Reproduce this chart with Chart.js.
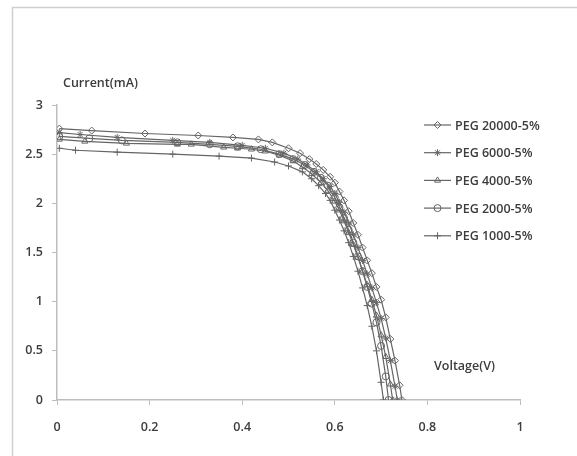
<!DOCTYPE html>
<html>
<head>
<meta charset="utf-8">
<script src="https://cdn.jsdelivr.net/npm/chart.js@4"></script>
<style>
  body { margin: 0; background: #fff; }
  canvas { display: block; }
</style>
</head>
<body>
<canvas id="ivChart" width="577" height="456"></canvas>
<script>
// Chart data
const seriesNames = ['PEG 20000-5%', 'PEG 6000-5%', 'PEG 4000-5%', 'PEG 2000-5%', 'PEG 1000-5%'];
const markerStyles = ['rectRot', 'star', 'triangle', 'circle', 'cross'];

const v20000 = [0.005, 0.075, 0.19, 0.305, 0.38, 0.435, 0.465, 0.50, 0.525, 0.545, 0.56, 0.575, 0.59, 0.60, 0.61, 0.62, 0.63, 0.64, 0.65, 0.66, 0.67, 0.68, 0.69, 0.70, 0.71, 0.72, 0.73, 0.74, 0.745];
const i20000 = [2.76, 2.74, 2.71, 2.69, 2.67, 2.65, 2.62, 2.56, 2.51, 2.45, 2.40, 2.34, 2.27, 2.21, 2.12, 2.03, 1.92, 1.80, 1.68, 1.55, 1.42, 1.29, 1.15, 1.02, 0.84, 0.62, 0.40, 0.15, 0.0];

const v6000 = [0.005, 0.05, 0.13, 0.25, 0.33, 0.40, 0.45, 0.49, 0.52, 0.54, 0.56, 0.575, 0.59, 0.60, 0.61, 0.62, 0.63, 0.64, 0.65, 0.66, 0.67, 0.68, 0.69, 0.70, 0.71, 0.72, 0.73, 0.735];
const i6000 = [2.72, 2.70, 2.67, 2.64, 2.62, 2.59, 2.56, 2.51, 2.45, 2.39, 2.32, 2.25, 2.17, 2.10, 2.01, 1.91, 1.80, 1.68, 1.55, 1.42, 1.28, 1.14, 0.99, 0.83, 0.63, 0.40, 0.14, 0.0];

const v4000 = [0.005, 0.06, 0.15, 0.26, 0.29, 0.36, 0.39, 0.42, 0.45, 0.48, 0.51, 0.53, 0.55, 0.57, 0.585, 0.60, 0.61, 0.62, 0.63, 0.64, 0.65, 0.66, 0.67, 0.68, 0.69, 0.70, 0.71, 0.72, 0.725];
const i4000 = [2.65, 2.63, 2.61, 2.60, 2.60, 2.57, 2.56, 2.55, 2.53, 2.49, 2.43, 2.37, 2.30, 2.21, 2.13, 2.02, 1.93, 1.82, 1.70, 1.58, 1.45, 1.31, 1.17, 1.02, 0.86, 0.66, 0.44, 0.16, 0.0];

const v2000 = [0.005, 0.07, 0.14, 0.26, 0.33, 0.39, 0.44, 0.48, 0.51, 0.535, 0.555, 0.57, 0.585, 0.60, 0.61, 0.62, 0.63, 0.64, 0.65, 0.66, 0.67, 0.68, 0.69, 0.70, 0.71, 0.716];
const i2000 = [2.68, 2.66, 2.64, 2.62, 2.60, 2.58, 2.55, 2.50, 2.45, 2.39, 2.32, 2.26, 2.18, 2.06, 1.96, 1.85, 1.73, 1.60, 1.46, 1.31, 1.15, 0.98, 0.79, 0.55, 0.24, 0.0];

const v1000 = [0.005, 0.04, 0.13, 0.25, 0.35, 0.42, 0.47, 0.50, 0.53, 0.55, 0.565, 0.58, 0.59, 0.60, 0.61, 0.62, 0.63, 0.64, 0.65, 0.66, 0.67, 0.68, 0.69, 0.70, 0.705];
const i1000 = [2.56, 2.54, 2.52, 2.50, 2.48, 2.46, 2.42, 2.38, 2.32, 2.25, 2.18, 2.10, 2.03, 1.93, 1.83, 1.72, 1.60, 1.46, 1.31, 1.14, 0.96, 0.75, 0.50, 0.18, 0.0];

const voltages = [v20000, v6000, v4000, v2000, v1000];
const currents = [i20000, i6000, i4000, i2000, i1000];

const xTicks = [0, 0.2, 0.4, 0.6, 0.8, 1];
const yTicks = [0, 0.5, 1, 1.5, 2, 2.5, 3];

const lineColor = '#656565';
const axisColor = '#bdbdbd';
const textColor = '#3c3c3c';
const fontFamily = '"Open Sans", Lato, sans-serif';

function toPoints(xs, ys) {
    return xs.map((x, k) => ({ x: x, y: ys[k] }));
}

const datasets = seriesNames.map((name, k) => ({
    label: name,
    data: toPoints(voltages[k], currents[k]),
    showLine: true,
    borderColor: lineColor,
    borderWidth: 1.2,
    pointStyle: markerStyles[k],
    pointRadius: 3.5,
    pointBorderColor: lineColor,
    pointBackgroundColor: 'rgba(255,255,255,0)',
    pointBorderWidth: 1,
    tension: 0
}));

// frame, axis titles and the legend on the right
const decorations = {
    id: 'decorations',
    beforeDraw(chart) {
        const ctx = chart.ctx;
        ctx.save();
        ctx.strokeStyle = '#cfcfcf';
        ctx.lineWidth = 1.5;
        ctx.beginPath();
        ctx.moveTo(12.5, 456);
        ctx.lineTo(12.5, 7.5);
        ctx.lineTo(577, 7.5);
        ctx.stroke();
        ctx.restore();
    },
    afterDraw(chart) {
        const ctx = chart.ctx;
        ctx.save();
        ctx.fillStyle = textColor;
        ctx.font = '600 12.5px ' + fontFamily;
        ctx.textBaseline = 'middle';
        ctx.textAlign = 'left';
        ctx.fillText('Current(mA)', 63, 83);
        ctx.fillText('Voltage(V)', 434, 366);

        // legend
        chart.data.datasets.forEach((ds, k) => {
            const y = 125 + k * 27.7;
            ctx.strokeStyle = lineColor;
            ctx.lineWidth = 1.2;
            ctx.beginPath();
            ctx.moveTo(424, y);
            ctx.lineTo(451, y);
            ctx.stroke();
            ctx.fillStyle = 'rgba(255,255,255,0)';
            ctx.lineWidth = 1;
            Chart.helpers.drawPoint(ctx, {
                pointStyle: ds.pointStyle,
                radius: 3.5,
                borderWidth: 1
            }, 437.5, y);
            ctx.fillStyle = textColor;
            ctx.fillText(ds.label, 455, y + 1);
        });
        ctx.restore();
    }
};

const tickFont = { family: fontFamily, size: 12.5, weight: '600' };

const ctx = document.getElementById('ivChart').getContext('2d');
new Chart(ctx, {
    type: 'scatter',
    data: { datasets: datasets },
    options: {
        responsive: false,
        animation: false,
        layout: { padding: { left: 0, top: 105, right: 57, bottom: 0 } },
        plugins: {
            legend: { display: false },
            tooltip: { enabled: false }
        },
        scales: {
            x: {
                type: 'linear',
                min: 0,
                max: 1,
                afterBuildTicks: (scale) => { scale.ticks = xTicks.map(v => ({ value: v })); },
                afterFit: (scale) => { scale.height = 56; },
                border: { color: axisColor, width: 1.5 },
                grid: { drawOnChartArea: false, color: axisColor, tickLength: 5 },
                ticks: { color: textColor, padding: 15, font: tickFont, callback: (v) => String(v) }
            },
            y: {
                type: 'linear',
                min: 0,
                max: 3,
                afterBuildTicks: (scale) => { scale.ticks = yTicks.map(v => ({ value: v })); },
                afterFit: (scale) => { scale.width = 57; },
                border: { color: axisColor, width: 1.5 },
                grid: { drawOnChartArea: false, color: axisColor, tickLength: 5 },
                ticks: { color: textColor, padding: 9, font: tickFont, callback: (v) => String(v) }
            }
        }
    },
    plugins: [decorations]
});
</script>
</body>
</html>
